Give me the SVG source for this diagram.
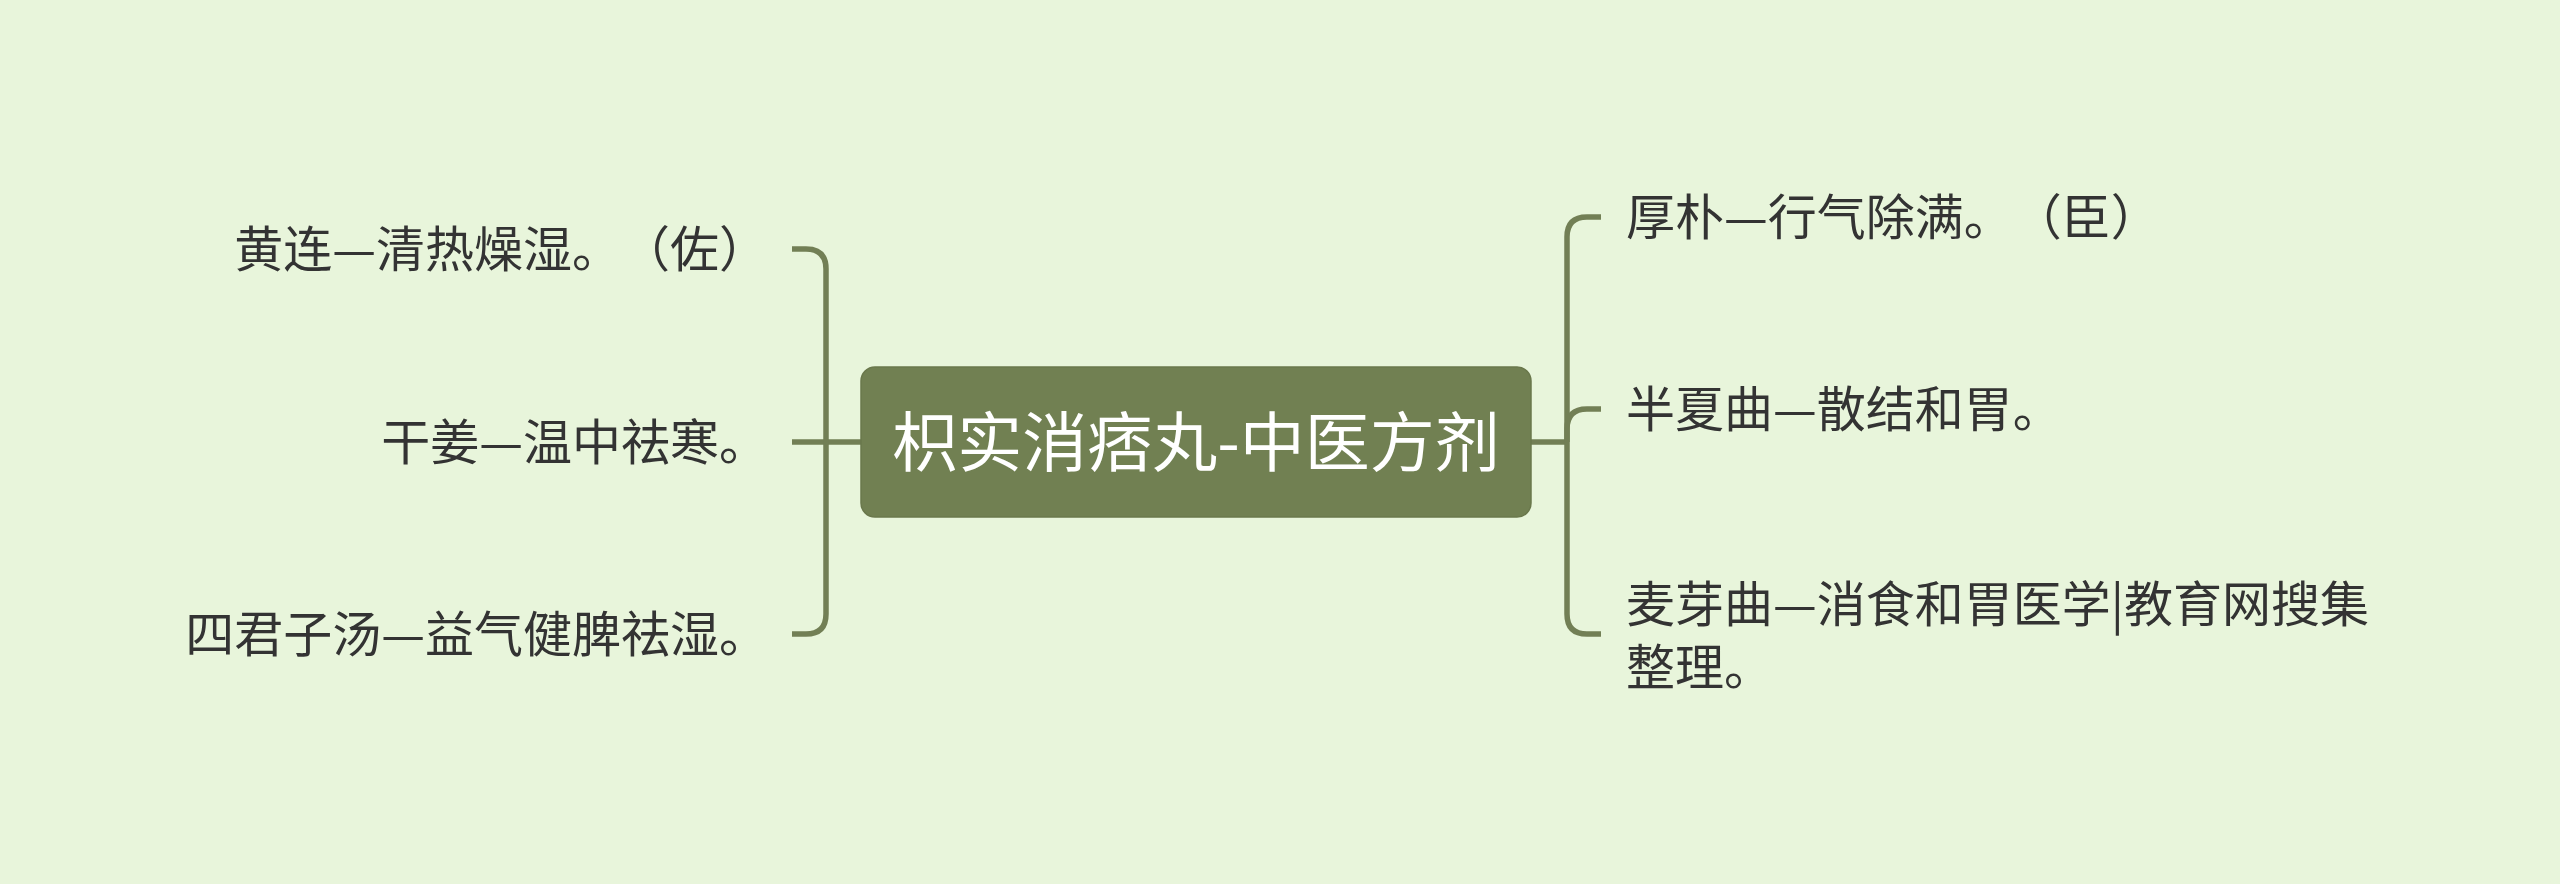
<svg xmlns="http://www.w3.org/2000/svg" width="2560" height="884" viewBox="0 0 2560 884">
<style>
.bg{fill:#E8F5DB}
.conn{fill:none;stroke:#727F55;stroke-width:5.5;stroke-linecap:butt;stroke-linejoin:round}
.root rect{fill:#718052;stroke:#6A784C;stroke-width:1.5}
.root text{fill:#FFFFFF;font-family:"Noto Sans CJK SC","Noto Sans",sans-serif;font-size:65px;text-anchor:middle}
.leaf{fill:#333333;font-family:"Noto Sans CJK SC","Noto Sans",sans-serif;font-size:49px;text-spacing-trim:space-all}
.l{text-anchor:end}
.r{text-anchor:start}
</style>
<rect class="bg" x="0" y="0" width="2560" height="884"/>
<g id="connectors">
<path class="conn" d="M792,442 H861"/>
<path class="conn" d="M792,249 H806 Q826,249 826,269 V614 Q826,634 806,634 H792"/>
<path class="conn" d="M1531,442 H1567"/>
<path class="conn" d="M1601,217 H1587 Q1567,217 1567,237 V614 Q1567,634 1587,634 H1601"/>
<path class="conn" d="M1567,442 V429 Q1567,409 1587,409 H1601"/>
</g>
<g id="root" class="root">
<rect x="861" y="367" width="670" height="150" rx="14" ry="14"/>
<text x="1196" y="466">枳实消痞丸-中医方剂</text>
</g>
<g id="node-huanglian"><text class="leaf l" x="768" y="267">黄连—清热燥湿。（佐）</text></g>
<g id="node-ganjiang"><text class="leaf l" x="768" y="460">干姜—温中祛寒。</text></g>
<g id="node-sijunzi"><text class="leaf l" x="768" y="652">四君子汤—益气健脾祛湿。</text></g>
<g id="node-houpo"><text class="leaf r" x="1626" y="235">厚朴—行气除满。（臣）</text></g>
<g id="node-banxia"><text class="leaf r" x="1626" y="427">半夏曲—散结和胃。</text></g>
<g id="node-maiya"><text class="leaf r" x="1626" y="622">麦芽曲—消食和胃医学|教育网搜集</text><text class="leaf r" x="1626" y="685">整理。</text></g>
</svg>
